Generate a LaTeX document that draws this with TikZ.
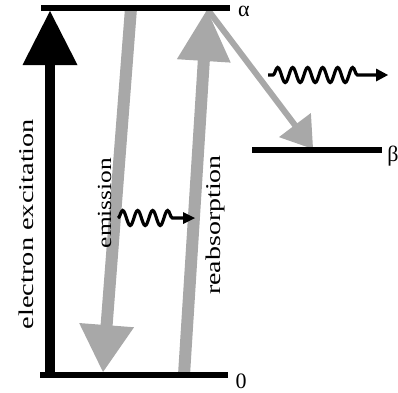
\documentclass[tikz,border=0pt]{standalone}
\usepackage{fontspec}
\setmainfont{Liberation Serif}
\usetikzlibrary{calc,decorations.pathmorphing}
\definecolor{arrowgray}{RGB}{168,168,168}
\newcommand\hlab[1]{\fontsize{22}{22}\selectfont #1}
\tikzset{
  levelline/.style={line width=6pt, black},
  hlbl/.style={inner sep=0pt, anchor=base},
  vlbl/.style={inner sep=0pt, anchor=base, rotate=90},
  photon/.style={line width=3.2pt, black, decorate},
}
\begin{document}
\begin{tikzpicture}[x=1pt,y=-1pt]
\useasboundingbox (0,0) rectangle (398,392);

% level end points
\coordinate (aL) at (41,8);   \coordinate (aR) at (230,8);
\coordinate (zL) at (40,375); \coordinate (zR) at (228,375);
\coordinate (bL) at (252,150); \coordinate (bR) at (382,150);

% black excitation arrow
\coordinate (exS) at (50,375); \coordinate (exT) at (50,11);
\coordinate (exB) at ($(exT)!54pt!(exS)$);
\draw[line width=10pt, black] (exS) -- ($(exB)!1pt!(exT)$);
\fill[black] (exT) -- ($(exB)!27.5pt!90:(exT)$) -- ($(exB)!27.5pt!-90:(exT)$) -- cycle;

% emission arrow
\coordinate (emS) at (131,8); \coordinate (emT) at (103,372);
\coordinate (emB) at ($(emT)!47pt!(emS)$);
\draw[line width=12pt, arrowgray] (emS) -- ($(emB)!1pt!(emT)$);
\fill[arrowgray] (emT) -- ($(emB)!27.5pt!90:(emT)$) -- ($(emB)!27.5pt!-90:(emT)$) -- cycle;

% reabsorption arrow
\coordinate (reS) at (184,375); \coordinate (reT) at (207,10);
\coordinate (reB) at ($(reT)!51pt!(reS)$);
\draw[line width=12pt, arrowgray] (reS) -- ($(reB)!1pt!(reT)$);
\fill[arrowgray] (reT) -- ($(reB)!27pt!90:(reT)$) -- ($(reB)!27pt!-90:(reT)$) -- cycle;

% alpha -> beta arrow
\coordinate (abS) at (208,10); \coordinate (abT) at (313,149);
\coordinate (abB) at ($(abT)!30pt!(abS)$);
\draw[line width=6pt, arrowgray] (abS) -- ($(abB)!1pt!(abT)$);
\fill[arrowgray] (abT) -- ($(abB)!20pt!90:(abT)$) -- ($(abB)!20pt!-90:(abT)$) -- cycle;

% levels
\draw[levelline] (aL) -- (aR);
\draw[levelline] (zL) -- (zR);
\draw[levelline] (bL) -- (bR);

% photons
\coordinate (w1s) at (268,75); \coordinate (w1e) at (376,75); \coordinate (w1t) at (388,75);
\draw[photon, decoration={snake, segment length=15pt, amplitude=7.5pt, pre length=5pt, post length=13pt}] (w1s) -- (w1e);
\fill[black] (w1t) -- ($(w1e)+(0,-6.5)$) -- ($(w1e)+(0,6.5)$) -- cycle;

\coordinate (w2s) at (118,218); \coordinate (w2e) at (183,218); \coordinate (w2t) at (195,218);
\draw[photon, decoration={snake, segment length=15pt, amplitude=7.5pt, pre length=0pt, post length=5pt}] (w2s) -- (w2e);
\fill[black] (w2t) -- ($(w2e)+(0,-6)$) -- ($(w2e)+(0,6)$) -- cycle;

% labels
\node[hlbl] (alpha) at (244,16) {\hlab{α}};
\node[hlbl] (beta) at (393,161) {\hlab{β}};
\node[hlbl] (zero) at (241,388) {\hlab{0}};
\node[vlbl] (exc) at (33,224) {\fontsize{21}{21}\selectfont\scalebox{1.35}[1]{electron excitation}};
\node[vlbl] (emi) at (111,203) {\fontsize{20}{20}\selectfont\scalebox{1.27}[1]{emission}};
\node[vlbl] (rea) at (220,225) {\fontsize{21}{21}\selectfont\scalebox{1.33}[1]{reabsorption}};
\end{tikzpicture}
\end{document}
